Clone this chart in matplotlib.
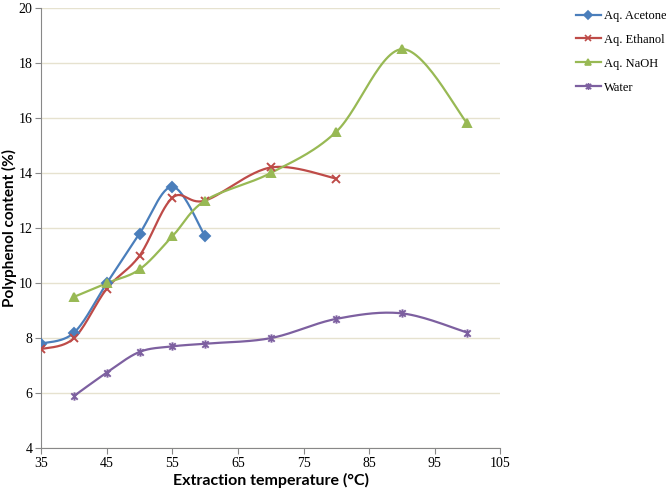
import numpy as np
import matplotlib
matplotlib.use("Agg")
import matplotlib.pyplot as plt
from matplotlib.path import Path

# --- データ ---
acetone_t = [35, 40, 45, 50, 55, 60]
acetone_v = [7.8, 8.2, 10.0, 11.8, 13.5, 11.7]

ethanol_t = [35, 40, 45, 50, 55, 60, 70, 80]
ethanol_v = [7.6, 8.0, 9.8, 11.0, 13.1, 13.0, 14.2, 13.8]

naoh_t = [40, 45, 50, 55, 60, 70, 80, 90, 100]
naoh_v = [9.5, 10.0, 10.5, 11.7, 13.0, 14.0, 15.5, 18.5, 15.8]

water_t = [40, 45, 50, 55, 60, 70, 80, 90, 100]
water_v = [5.9, 6.75, 7.5, 7.7, 7.8, 8.0, 8.7, 8.9, 8.2]

x_ticks = [35, 45, 55, 65, 75, 85, 95, 105]
y_ticks = [4, 6, 8, 10, 12, 14, 16, 18, 20]

plt.rcParams['font.family'] = ['Liberation Serif', 'DejaVu Serif']


def smooth(xs, ys, n=30):
    # Excel風の平滑線 (Catmull-Rom / Bezier)
    p = np.column_stack([xs, ys]).astype(float)
    pts = []
    for i in range(len(p) - 1):
        p0 = p[i - 1] if i > 0 else p[i]
        p1 = p[i]
        p2 = p[i + 1]
        p3 = p[i + 2] if i + 2 < len(p) else p[i + 1]
        c1 = p1 + (p2 - p0) / 6
        c2 = p2 - (p3 - p1) / 6
        t = np.linspace(0, 1, n)[:, None]
        seg = ((1 - t) ** 3 * p1 + 3 * (1 - t) ** 2 * t * c1
               + 3 * (1 - t) * t ** 2 * c2 + t ** 3 * p2)
        pts.append(seg if i == 0 else seg[1:])
    s = np.vstack(pts)
    return s[:, 0], s[:, 1]


star = Path([(-1, -1), (1, 1), (-1, 1), (1, -1), (0, -1.3), (0, 1.3)],
            [Path.MOVETO, Path.LINETO, Path.MOVETO, Path.LINETO, Path.MOVETO, Path.LINETO])

series = [
    ("Aq. Acetone", acetone_t, acetone_v, "#4A7EBB", "D", 5),
    ("Aq. Ethanol", ethanol_t, ethanol_v, "#BE4B48", "x", 6),
    ("Aq. NaOH", naoh_t, naoh_v, "#98B954", "^", 6),
    ("Water", water_t, water_v, "#7D60A0", star, 6),
]

fig = plt.figure(figsize=(6.66, 4.92), dpi=100)
ax = fig.add_axes([0.062, 0.089, 0.689, 0.895])

handles = []
for name, xs, ys, col, mk, ms in series:
    sx, sy = smooth(xs, ys)
    ax.plot(sx, sy, color=col, lw=1.6, zorder=3)
    ax.plot(xs, ys, linestyle="none", marker=mk, color=col, ms=ms,
            mew=1.4, zorder=4)
    h, = ax.plot([], [], color=col, lw=1.6, marker=mk, ms=ms - 1, mew=1.2)
    h.set_label(name)
    handles.append(h)

ax.set_xlim(35, 105)
ax.set_ylim(4, 20)
ax.set_xticks(x_ticks)
ax.set_yticks(y_ticks)
ax.grid(axis="y", color="#E6E2CF", lw=1)
ax.set_axisbelow(True)
for s in ["top", "right"]:
    ax.spines[s].set_visible(False)
for s in ["left", "bottom"]:
    ax.spines[s].set_color("#888888")
ax.tick_params(direction="out", length=4, color="#888888", labelsize=10, pad=2.5)

ax.set_xlabel("Extraction temperature (°C)", fontsize=11.5, fontweight="bold",
              family="Lato", labelpad=2)
ax.set_ylabel("Polyphenol content (%)", fontsize=11, fontweight="bold",
              family="Lato")
ax.yaxis.set_label_coords(-0.054, 0.5)

fig.legend(handles=handles, loc="upper left", bbox_to_anchor=(0.853, 0.995),
           frameon=False, prop={"family": "Liberation Serif", "size": 9},
           handlelength=2.0, labelspacing=0.95, handletextpad=0.3,
           borderaxespad=0.2)

fig.savefig("out.png", dpi=100)
